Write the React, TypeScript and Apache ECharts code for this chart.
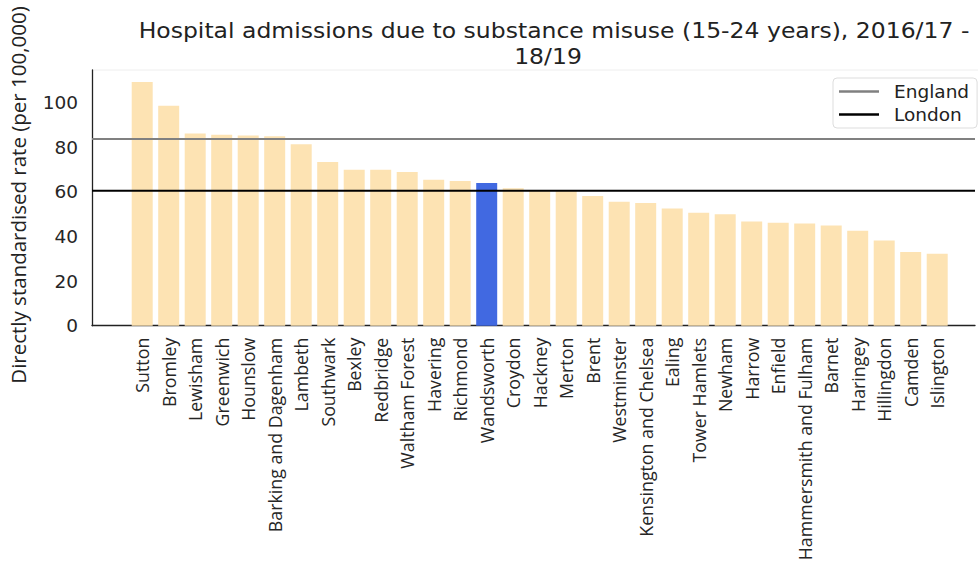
import React, { useEffect, useRef } from "react";
import * as echarts from "echarts";

const categories = [
  "Sutton", "Bromley", "Lewisham", "Greenwich", "Hounslow", "Barking and Dagenham",
  "Lambeth", "Southwark", "Bexley", "Redbridge", "Waltham Forest", "Havering",
  "Richmond", "Wandsworth", "Croydon", "Hackney", "Merton", "Brent", "Westminster",
  "Kensington and Chelsea", "Ealing", "Tower Hamlets", "Newham", "Harrow", "Enfield",
  "Hammersmith and Fulham", "Barnet", "Haringey", "Hillingdon", "Camden", "Islington",
];
const values = [
  109.1, 98.5, 86.1, 85.5, 85.2, 84.8, 81.2, 73.3, 69.8, 69.8, 68.8, 65.4, 64.8, 63.9,
  61.6, 60.3, 60.3, 58.1, 55.5, 54.9, 52.5, 50.6, 49.9, 46.7, 46.1, 45.8, 44.9, 42.5,
  38.2, 33.0, 32.2,
];
const highlight = "Wandsworth";
const englandRate = 83.6;
const londonRate = 60.4;
const yTicks = [0, 20, 40, 60, 80, 100];
const yMax = 114.5;
const titleLines = ["Hospital admissions due to substance misuse (15-24 years), 2016/17 -", "18/19"];

export default function App() {
  const ref = useRef<HTMLDivElement>(null);
  useEffect(() => {
    const chart = echarts.init(ref.current!, null, { renderer: "svg" });
    const top = 70;
    const bottom = 564 - 325.7;
    chart.setOption({
      animation: false,
      backgroundColor: "#ffffff",
      textStyle: { fontFamily: "DejaVu Sans" },
      grid: [
        { left: 128.95, right: 27.55, top, bottom, containLabel: false, outerBoundsMode: "none" },
        { left: 92, right: 3, top, bottom, containLabel: false, outerBoundsMode: "none" },
      ],
      xAxis: [
        {
          type: "category",
          gridIndex: 0,
          data: categories,
          boundaryGap: true,
          axisLine: { show: false },
          axisTick: { show: false },
          axisLabel: {
            interval: 0,
            rotate: 90,
            margin: 12,
            fontSize: 17.8,
            fontFamily: "Open Sans",
            color: "#262626",
          },
        },
        {
          type: "value",
          gridIndex: 1,
          min: 0,
          max: 1,
          axisLine: { show: true, lineStyle: { color: "#222", width: 1.3 } },
          axisTick: { show: false },
          axisLabel: { show: false },
          splitLine: { show: false },
        },
      ],
      yAxis: [
        {
          type: "value",
          gridIndex: 0,
          min: 0,
          max: yMax,
          show: false,
          splitLine: { show: false },
        },
        {
          type: "value",
          gridIndex: 1,
          min: 0,
          max: yMax,
          interval: 20,
          axisLine: { show: true, lineStyle: { color: "#222", width: 1.3 } },
          axisTick: { show: false },
          splitLine: { show: false },
          axisLabel: {
            fontSize: 18.5,
            margin: 14,
            color: "#262626",
            fontFamily: "DejaVu Sans",
            formatter: (v: number) => (yTicks.includes(v) ? String(v) : ""),
          },
        },
      ],
      legend: {
        orient: "vertical",
        left: 833,
        top: 78,
        data: ["England", "London"],
        icon: "rect",
        itemWidth: 40,
        itemHeight: 2.5,
        itemGap: 4,
        backgroundColor: "#ffffff",
        borderColor: "#dddddd",
        borderWidth: 1,
        borderRadius: 4,
        padding: [4, 8, 4, 6],
        textStyle: { fontSize: 18.5, color: "#222", fontFamily: "DejaVu Sans", padding: [0, 0, 0, 10] },
      },
      series: [
        {
          type: "bar",
          xAxisIndex: 0,
          yAxisIndex: 0,
          barWidth: 21,
          data: values.map((v, i) => ({
            value: v,
            itemStyle: { color: categories[i] === highlight ? "#4169e1" : "#fde3b3" },
          })),
        },
        {
          name: "England",
          type: "line",
          xAxisIndex: 1,
          yAxisIndex: 1,
          symbol: "none",
          lineStyle: { color: "#808080", width: 2 },
          itemStyle: { color: "#808080" },
          data: [[0, englandRate], [1, englandRate]],
          z: 3,
        },
        {
          name: "London",
          type: "line",
          xAxisIndex: 1,
          yAxisIndex: 1,
          symbol: "none",
          lineStyle: { color: "#000000", width: 2 },
          itemStyle: { color: "#000000" },
          data: [[0, londonRate], [1, londonRate]],
          z: 3,
        },
      ],
      graphic: [
        {
          type: "text",
          x: 554,
          y: 30.5,
          scaleX: 1.12,
          style: {
            text: titleLines[0],
            align: "center",
            verticalAlign: "middle",
            fontSize: 21,
            fontFamily: "DejaVu Sans",
            fill: "#222",
          },
        },
        {
          type: "text",
          x: 548,
          y: 56,
          scaleX: 1.12,
          style: {
            text: titleLines[1],
            align: "center",
            verticalAlign: "middle",
            fontSize: 21,
            fontFamily: "DejaVu Sans",
            fill: "#222",
          },
        },
        {
          type: "text",
          x: 18,
          y: 195,
          rotation: Math.PI / 2,
          style: {
            text: "Directly standardised rate (per 100,000)",
            align: "center",
            verticalAlign: "middle",
            fontSize: 20.5,
            fontFamily: "Open Sans",
            fill: "#222",
          },
        },
        {
          type: "line",
          shape: { x1: 92, y1: 70, x2: 978, y2: 70 },
          style: { stroke: "#eeeeee", lineWidth: 1 },
        },
      ],
    });
    return () => chart.dispose();
  }, []);
  return <div ref={ref} style={{ width: 978, height: 564, position: "absolute", left: 0, top: 0 }} />;
}
